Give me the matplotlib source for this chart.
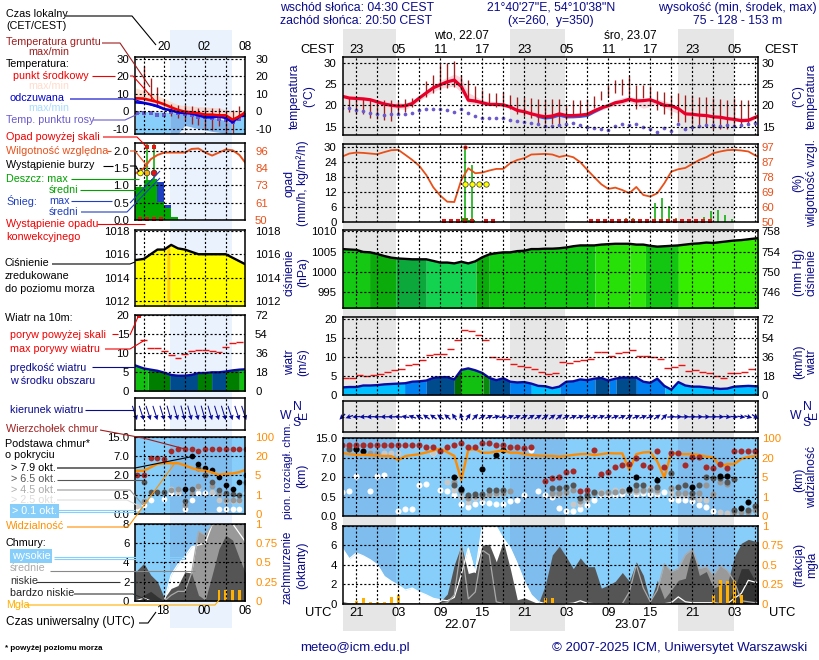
import numpy as np
import matplotlib
matplotlib.use('Agg')
import matplotlib.pyplot as plt

plt.rcParams['font.family'] = ['Liberation Sans', 'DejaVu Sans']
plt.rcParams['font.size'] = 7.9
plt.rcParams['lines.scale_dashes'] = False

# ---------- MAIN PANELS DATA (hour index from 19 UTC 21.07) ----------
temp = [22.1,21.7,21.6,21.5,21.3,20.8,20.3,20.0,19.8,19.9,20.4,21.7,22.9,24.1,24.8,25.5,25.9,24.4,21.2,21.0,
        20.6,20.2,20.2,20.1,19.6,18.8,18.5,18.0,17.6,17.3,17.5,18.0,17.6,17.6,17.7,17.9,18.7,19.4,19.9,20.6,
        20.9,21.4,21.0,21.1,21.3,20.7,20.0,19.9,19.2,18.0,17.9,17.7,17.6,17.3,17.2,16.9,16.7,16.4,16.5,17.2,17.8]
dew = [19.4,19.4,19.0,18.7,18.2,17.9,17.8,18.0,17.9,17.9,18.2,18.8,19.2,19.2,19.1,18.8,18.4,19.2,18.1,17.5,
       17.1,17.0,17.1,17.1,16.6,16.4,16.1,15.9,15.6,15.2,15.2,15.3,15.6,15.9,15.4,15.0,14.6,14.4,14.2,15.2,
       15.6,15.4,15.7,14.9,14.4,13.7,14.8,14.1,15.6,14.4,14.9,15.2,15.4,15.3,15.2,15.3,15.2,15.3,15.6,15.9]
ground_hours = list(range(1, 59))
ground_max = [22.0,21.7,21.4,21.3,21.2,21.3,21.2,21.0,21.4,21.6,22.0,25.7,27.1,29.7,29.8,30.3,27.1,26.0,24.4,23.6,
              22.9,22.9,23.1,22.5,22.0,22.0,21.6,21.4,21.4,21.4,21.4,20.0,21.2,21.2,21.4,22.1,23.3,24.8,26.0,26.2,
              26.9,24.8,24.8,24.4,23.4,23.0,22.4,22.8,22.4,22.4,22.0,22.0,21.7,21.4,21.2,21.6,21.2,21.2]
ground_min = [18.4,18.0,17.9,17.1,16.8,16.6,16.4,18.0,18.4,19.6,21.2,22.0,22.9,23.6,24.1,24.2,23.6,21.2,20.8,20.4,
              20.0,19.6,19.6,19.2,18.0,17.6,17.1,15.6,15.6,15.6,15.2,16.5,17.6,17.6,17.6,19.4,21.3,22.0,22.8,22.4,
              22.0,19.2,21.6,20.4,19.0,18.0,17.6,16.0,16.0,15.6,15.2,15.2,14.4,14.4,14.4,15.2,15.2,15.6]
env_hours = [0,3,6,9,11,12,14,16,17,18,20,23,26,29,32,35,38,40,41,43,45,47,49,52,55,58,60]
env_upper = [22.5,22,21,20.5,22,23.5,25.8,27.3,26.5,23,21.2,20.6,19.2,18,18,18.2,20.6,21.8,22,21.6,21.5,20.5,18.5,18,17.4,17,18]
env_lower = [21.5,21,19.5,19,21,22.2,24,24.5,23,20.5,20,19.8,18,16.8,17,17.5,19.5,20.3,20.8,19.3,20.2,18.7,17.5,17,16.5,16,17.5]
feels_hours = [28,29,30,31,32,33,34,35,36,37]
feels = [17.4,17.0,17.2,17.7,17.3,17.3,17.4,17.6,18.5,19.3]

rh = [90.7,92.6,93.2,93.0,92.6,92.2,93.5,94.7,94.9,91.8,88.6,84.9,79.2,71.5,66.3,62.5,62.3,76.1,83.4,80.3,
      80.7,82.0,83.0,83.0,86.6,88.6,89.7,92.0,92.2,92.4,92.0,90.5,91.4,90.3,87.2,82.4,77.8,73.4,70.5,71.3,
      69.8,67.8,71.7,66.7,65.7,67.8,74.0,81.3,82.8,83.6,86.1,88.6,90.3,92.8,93.9,94.7,94.9,94.5,93.9,91.4,89.5]
rain_hours = [17.55,18.55,40.55,41.55,44.65,45.65,46.65,47.65,51.65,52.65,53.65,54.65,55.65]
rain_max = [30.0,22.8,1.3,1.6,7.3,9.3,6.4,1.3,2.0,4.4,4.5,2.5,1.0]
rain_mean_hours = [17.0,18.0]
rain_mean = [1.3,0.6]
thunder_hours = [17.55,18.55,19.55,20.55]
thunder_level = [15.1,15.1,15.1,15.1]
over_hours = [17.55]
convective_hours = [14.55,15.55,16.55,17.55,18.55,20.55,21.55,35.55,36.55,37.55,38.55,39.55,40.55,41.55,42.55,
                    43.55,44.55,45.55,46.55,47.55,48.55,49.55,50.55,51.55,52.55]

pressure = [1005.6,1005.5,1005.4,1004.9,1004.8,1004.4,1003.9,1003.5,1003.3,1003.2,1003.1,1003.1,1003.1,1002.7,1002.3,
            1002.3,1002.1,1002.5,1002.1,1002.6,1003.6,1004.3,1004.6,1004.8,1004.8,1005.1,1005.2,1005.6,1005.6,1005.7,
            1005.7,1005.8,1006.0,1006.3,1006.5,1006.5,1006.5,1006.7,1006.8,1006.9,1006.9,1006.9,1006.7,1006.7,1006.4,
            1006.2,1006.3,1006.4,1006.5,1006.7,1006.9,1007.0,1007.2,1007.1,1007.3,1007.5,1007.7,1007.8,1008.0,1008.2,1008.4]

wind = [2.0,2.1,2.1,2.5,2.5,2.6,2.8,2.9,3.0,3.1,3.5,3.6,3.8,4.5,4.7,4.7,4.1,6.6,7.0,6.5,
        5.8,4.5,3.9,4.4,3.5,3.3,3.4,3.0,2.4,2.3,1.8,2.2,3.5,3.6,4.1,3.9,4.3,4.5,3.8,4.3,
        4.6,4.6,4.6,3.5,3.2,4.3,2.4,1.4,3.4,2.5,2.2,2.2,2.0,1.8,1.6,1.7,2.2,2.3,2.4,2.3,2.3]
gust = [4.4,4.4,5.2,5.0,5.2,5.4,6.0,6.5,6.8,7.8,8.1,9.1,10.4,10.7,10.7,12.0,14.4,17.0,16.8,15.7,
        14.6,9.9,9.6,9.6,8.1,7.7,7.5,6.8,6.0,5.4,5.7,8.6,8.3,8.9,9.1,9.6,11.2,11.2,10.2,11.0,
        11.2,11.8,10.2,10.2,9.9,9.6,7.0,7.3,7.8,6.2,6.5,6.0,5.7,4.9,4.4,5.7,5.7,6.0,6.8]
wind_to = [225,200,185,183,182,180,180,178,176,170,160,150,145,145,145,140,125,110,55,45,
           30,25,15,10,22,25,28,30,30,35,35,38,28,22,20,20,20,20,20,20,
           22,30,22,20,20,35,45,5,3,3,2,2,2,2,0,-5,-5,-8,-15,-35]

top_hours = [0,1,2,3,4,5,6,7,8,9,10,11,12,13,14,15,16,17,18,19,20,21,22,23,24,25,26,27,29,30,31,32,33,34,35,36,37,38,39,40,41,42,43,44,45,46,47,48,49,50,51,52,53,54,55,56,57,58,59]
top_km = [12,12,12,12,12,12,12,12,12,12,12,12,11.3,11.3,9.8,11.3,12,12.8,11.3,11.3,12.8,12.8,12,12,11.3,11.3,10.9,11.5,1.7,1.9,2.0,3.3,3.6,0.9,1.0,10.2,2.9,3.3,4.5,5.0,5.4,6.9,5.1,4.5,9.5,4.7,8.9,8.9,5.2,7.4,7.4,4.5,4.2,5.4,4.2,9.8,9.8,9.8,9.8]
b79_hours = [2,3,16,17,20,22,23,41,42,45,50,54,55,57,58]
b79_km = [10.4,9.9,2.1,1.1,4.0,8.1,10.2,1.1,2.0,1.8,1.2,2.3,2.3,0.2,0.35]
b65_hours = [1,2,16,17,18,19,20,21,22,23,30,31,32,33,34,35,36,41,42,43,45,47,48,49,50,51,52,53,54,55,56,56,58,59]
b65_km = [10.7,10.7,1.4,1.0,0.6,0.7,0.7,1.0,1.0,1.0,1.14,1.14,1.26,1.36,0.47,0.63,0.88,0.98,1.36,1.36,1.26,2.95,1.2,1.39,0.75,1.39,2.1,1.95,1.95,1.64,1.82,0.16,0.16,0.26]
b45_hours = [1,4,5,16,17,18,19,20,21,22,23,24,30,31,32,33,34,35,36,37,38,39,40,41,42,43,44,45,47,48,49,50,51,52,53,54,55,56,57,58,59]
b45_km = [11.5,9,9,1.6,0.9,0.45,0.55,0.55,0.7,0.75,0.75,0.9,0.75,0.75,0.88,1.0,0.39,0.46,0.75,0.75,0.88,0.88,0.95,0.9,1.0,1.0,1.0,1.0,1.14,0.75,0.75,0.5,0.75,1.39,0.7,1.64,1.5,0.1,0.1,0.1,0.16]
b25_hours = [4,6,7,8,13,15,16,17,18,19,20,21,22,23,30,31,32,33,34,35,37,38,39,40,41,42,43,44,45,47,48,49,50,51,52,53,54,55,56]
b25_km = [9,9,9,9,9,1.6,1.0,0.5,0.37,0.45,0.45,0.6,0.68,0.75,0.58,0.58,0.75,0.32,0.3,0.41,0.88,0.75,1.0,1.0,0.93,0.88,0.95,1.14,0.88,0.75,0.63,0.63,0.5,0.44,0.42,0.58,0.11,0.07,0.07]
b01_hours = [0,1,2,4,5,6,8,9,10,11,12,13,14,15,16,17,18,19,20,21,22,23,24,25,26,27,28,29,30,31,32,33,34,35,36,37,38,39,40,41,42,43,44,45,46,47,48,49,50,51,52,53]
b01_km = [0.83,0.93,2.3,0.93,2.2,2.6,0.14,0.19,0.19,1.36,1.5,9,1,0.93,0.58,0.32,0.22,0.32,0.35,0.34,0.32,0.32,0.38,0.41,0.58,10.2,0.93,0.58,0.5,0.2,0.14,0.14,0.18,0.28,0.4,0.58,0.58,0.63,0.7,0.88,0.7,0.78,0.7,0.7,0.83,0.43,0.4,0.41,0.39,0.28,0.23,0.14]
visibility = [39,34,31,31,30,27,27,26,18,26,30,34,41,49,57,42,27,4.4,52,55,40,40,45,49,40,40,34,30,28,27,
              27,24,27,31,34,35,30,34,38,37,37,10.4,34,41,43,17,4.9,41,34,34,34,31,24,21,13,15,15,19,23,26,28]

cl_high = [5.7,4.6,5.2,4.9,4.5,4.0,2.8,2.3,1.9,1.4,1.6,1.2,0.9,0.55,0.4,0.3,0.65,3.0,5.7,3.2,8.0,8.0,7.9,6.7,5.7,4.1,2.3,0.9,0.2,0,
           0,0,0,0.05,0.3,0.05,0,0,0,0,0,0,0,0,0,0,0,0.1,0.7,0.2,0.1,0.1,0.1,0.1,0,0,0.55,1.06,2.4,2.2,2.2]
cl_mid = [0,0,0,0,0,0,0,0,0,0,0,0,0,0,0,0.1,0.9,6.0,0.5,1.2,5.5,5.0,0.2,0,0,0,0,0,0,0,
          0,0,0,0,0,0,0,0,0,0,0,1.2,4.0,1.6,0.2,1.4,4.1,3.3,3.6,5.0,5.6,3.6,3.8,2.9,3.9,3.4,2.3,0.3,0.2,0.1,0.1]
cl_low = [0.2,0.1,0.1,0,0,0,0,0,0,0,0,0,0,0,0.2,1.0,4.0,6.0,3.1,3.3,6.0,6.1,4.3,6.4,3.6,0.4,0.6,0.3,0,1.9,
          5.0,5.9,4.8,3.6,4.7,3.8,3.8,1.6,1.9,2.3,3.2,2.3,4.3,2.9,0.2,2.4,0.5,1.4,2.4,2.6,5.6,2.9,3.3,1.6,1.9,2.0,4.8,6.2,6.6,6.4,6.3]
cl_vlow = [0.15,0.1,0,0,0,0,0,0,0,0,0,0,0,0,0,0,0,0,0,0,0,0,0,0,0,0,0,0,0,0,
           0,0,0,0,0,0,0,0,0,0,0,0,0,0,0,0,0,0,0,0,0,0,0,0,0,0,1.5,3.6,3.6,2.3,2.3]
fog_hours = [2,3,4,5,6,7,8,29,30,53,54,55,56,57]
fog_frac = [0.04,0.07,0.025,0.025,0.025,0.08,0.11,0.07,0.07,0.11,0.31,0.29,0.29,0.11]

# ---------- LEFT PANELS DATA (UTC hour, 14 .. 30) ----------
l_hours = list(range(14, 31))
l_temp = [7.5,7.3,6.3,5.4,4.0,2.3,0.8,-0.2,-0.6,-1.1,-1.9,-1.9,-2.3,-2.3,-4.8,-2.9,-0.2]
l_feels = [5.2,4.8,4.0,3.0,1.3,0.6,-0.6,-1.0,-1.3,-2.3,-3.4,-3.4,-2.9,-3.8,-6.3,-2.9,-2.3]
l_dew = [-1,-1,-1.1,-1.9,-2.3,-0.6,-1.1,-1.5,-2.1,-3.3,-3.4,-3.8,-4.4,-5.2,-6.3,-4.4,-1.9]
l_ground_hours = list(range(15, 30))
l_ground_max = [25.8,19.1,14,6.7,4.2,3.8,3.8,2.9,1.9,1.9,1.9,1.9,1,1,3.3]
l_ground_min = [10.5,6.7,3.8,2.9,-2.9,-3.8,-4.8,-7.1,-7.6,-9.6,-10.5,-8.6,-12.4,-12.4,-4.8]
l_pink_top = [13.4,12,10.5,9,7.5,5.5,3.8,3.3,2.9,2.7,2.5,2.2,1.9,1,0,0.5,1]
l_blue_top = [0,0,-0.1,-0.3,-0.4,-0.7,-1,-1.5,-2,-2.5,-2.9,-3.5,-4.2,-5.5,-6.7,-4,-1]
l_blue_bot = [-13,-13,-13,-13,-13,-13,-13,-8,-9,-10,-10.7,-11.5,-12,-13,-13,-13,-13]
l_rh = [81,84.4,90.4,93.3,94.9,94.9,94.9,94.9,97.3,97.6,94.9,92.9,94.9,96.9,96.4,93.3,87.3]
l_rain_mean = [0.95,1.16,1.2,0.53,0.34,0.08]
l_snow_mean = [0,0,0,0.58,0.09,0]
l_rain_hours = [13.75,15,16,17,18,19]
l_rain_widths = [1.25,1,1,1,1,1]
l_rain_max_hours = [14.5,15.45,16.5]
l_rain_max = [1.0,2.2,2.2]
l_thunder_hours = [14.5,15.45,16.5]
l_thunder_level = [1.36,1.36,1.36]
l_thunder_colors = ['#FFFF00','#FFB000','#E81010']
l_over_hours = [15.45,16.5]
l_convective = [14.5,15.45,16.5,17.45]
l_pressure = [1015.5,1015.6,1016,1016.4,1016.4,1016.8,1016.5,1016.4,1016.2,1016,1016,1016,1016,1016,1015.7,1015.4,1015.1]
l_wind = [6.8,6.0,5.7,5.4,4.9,4.3,4.1,4.1,4.3,4.8,4.8,5.0,5.0,5.2,5.5,5.7,5.8]
l_gust_hours = list(range(15, 30))
l_gust = [13.5,11.5,11.3,10.5,9.6,8.7,9.8,10.5,10.8,10.9,10.5,10.4,11.6,12.8,13.0]
l_wind_to = [-72,-72,-72,-72,-73,-74,-74,-75,-75,-75,-74,-74,-73,-73,-72,-72,-72]
l_top = [2.0,2.0,6.6,6.6,6.3,9.1,10,10,10,9.1,10,10,10,10,10,10,10]
lb79_hours = [21,22,23,24,25,26,27,28,29,30]
lb79 = [0.95,7,5,4,3.5,1.85,1.3,0.95,1.5,2]
lb65_hours = [15,16,17,18,21,22,23,24,25,26,27,28,29,30]
lb65 = [1.5,0.7,0.7,0.7,0.35,0.95,3.9,2.2,1.5,0.9,0.65,0.6,0.5,1.5]
lb45_hours = [15,19,20,21,22,23,25,26,27,28,29,30]
lb45 = [0.35,0.9,0.95,0.25,0.65,1.2,1.15,0.6,0.37,0.37,0.37,1.4]
lb25_hours = [14,19,20,23,25,26,27,28,29,30]
lb25 = [0.22,0.95,0.75,1.05,0.75,0.37,0.33,0.33,0.33,1.2]
lb01_hours = [14,15,16,18,19,20,21,22,23,24,25,26,27,28,29,30]
lb01 = [0.15,0.25,0.37,0.4,0.65,0.65,0.13,0.37,0.65,0.65,0.65,0.13,0.13,0.13,0.13,0.65]
l_vis = [8.7,8.7,11.3,14,14.5,14.5,14.5,12.9,10.8,9.2,8.7,7.4,5.5,6.3,6.6,7.6,9.7]
l_high = [0,0.3,0,0,0,2.7,3.8,4.6,5.6,5.8,6,7.9,8,8,8,7,6]
l_mid = [0,0,0,0,0,0.6,1,1,2.9,7.2,6.8,7.9,8,8,8,8,8]
l_low = [3,3.9,2.7,2,0.3,1.3,1.6,3,2.9,0.6,0.1,2.7,5.4,6.8,6.3,4.4,2.7]
l_vlow = [0.1,0.6,1,0.45,0,0,0,0,0,0,0,0,0,0,0,0,0]
l_fog_hours = [26,27,28,29]
l_fog = [0.14,0.14,0.14,0.14]

# ---------- TICK LABELS ----------
cest_labels = ['23','05','11','17','23','05','11','17','23','05']
utc_labels = ['21','03','09','15','21','03','09','15','21','03']
kmh_labels = ['0','18','36','54','72']
mmhg_labels = ['746','750','754','758']
km_labels = ['0.0','0.5','2.0','7.0','15.0']
vis_labels = ['0','1','5','20','100']
frac_labels = ['0','0.25','0.5','0.75','1']

# ---------- COLOURS ----------
NAVY = '#0A0A8C'
SKY = '#87CEFA'
SKYN = '#7FBDEE'
ORANGE = '#FF8C00'
RHC = '#E8501A'
BROWN = '#A01E1E'
GREEN = '#00A800'
TICK = 8.2

fig = plt.figure(figsize=(8.2, 6.6), dpi=100)
W, H = 820.0, 660.0


def px_axes(x0, x1, y0, y1, **kw):
    return fig.add_axes([x0 / W, 1 - y1 / H, (x1 - x0) / W, (y1 - y0) / H], **kw)


bg = px_axes(0, 820, 0, 660, zorder=-1)
bg.set_xlim(0, 820); bg.set_ylim(660, 0); bg.axis('off')
for a, b in [(343, 396), (510, 565), (678, 733.7)]:
    bg.fill_between([a, b], 29, 631, color='#E6E6E6', lw=0)
bg.fill_between([170, 231.7], 30, 628, color='#EAF2FD', lw=0)

MAIN_X = (342.7, 757.7)
LEFT_X = (135.3, 245.3)
MXLIM = (0.06, 59.34)
LXLIM = (13.75, 29.86)
MNIGHT = [(0.06, 7.67), (23.96, 31.8), (47.96, 55.9)]
LNIGHT = [(18.83, 27.87)]
MGRID = list(range(2, 60, 3))
LGRID = [15, 18, 21, 24, 27]


def panel(xr, yr, xlim, ylim, yticks, ylabels, gridx, rlabels=None, rticks=None, rcolor='black', lcolor='black', lpad=4.3, rpad=3):
    ax = px_axes(xr[0], xr[1], yr[0], yr[1], zorder=5)
    ax.patch.set_alpha(0)
    ax.set_xlim(*xlim); ax.set_ylim(*ylim)
    ax.set_xticks(gridx); ax.set_xticklabels([])
    ax.set_yticks(yticks); ax.set_yticklabels(ylabels, color=lcolor, fontsize=TICK)
    ax.tick_params(length=0, pad=lpad)
    ax.grid(True, color='black', lw=0.85, ls=(0, (1.5, 1.5)))
    ax.set_axisbelow(False)
    for s in ax.spines.values():
        s.set_linewidth(1.1); s.set_zorder(6)
    rax = ax.twinx()
    rax.patch.set_alpha(0)
    rax.set_ylim(*ylim)
    rax.set_yticks(rticks if rticks is not None else yticks)
    rax.set_yticklabels(rlabels if rlabels is not None else ylabels, color=rcolor, fontsize=TICK)
    rax.tick_params(length=0, pad=rpad)
    for s in rax.spines.values():
        s.set_visible(False)
    return ax


def fill_seg(ax, x, y, a, b, base, color, z=1):
    xs = np.arange(a, b + 0.051, 0.1)
    y1 = np.interp(xs, x, y)
    y2 = np.interp(xs, x, base) if np.ndim(base) else base
    ax.fill_between(xs, y1, y2, color=color, lw=0, zorder=z)


def segs(ax, x, y, items, base, z=1):
    for a, b, c in items:
        fill_seg(ax, x, y, a, b, base, c, z)


def dots(ax, hours, km, color, s=19, z=2.1):
    ax.scatter(hours, km, s=s, color=color, lw=0, zorder=z)


KM_POS = [0, 1, 2, 3, 4]
KM_VAL = [0, 0.5, 2, 7, 15]
VIS_VAL = [0, 1, 5, 20, 100]


def km_y(v):
    return np.interp(v, KM_VAL, KM_POS)


def vis_y(v):
    return np.interp(v, VIS_VAL, KM_POS)


mx = np.arange(len(temp))
# ---------- main temperature ----------
ax = panel(MAIN_X, (57, 135), MXLIM, (13.05, 31.3), [15, 20, 25, 30], ['15', '20', '25', '30'], MGRID, rpad=3)
ax.fill_between(env_hours, env_lower, env_upper, color='#FAD7DC', lw=0, zorder=1)
ax.plot(feels_hours, feels, color='#2060F0', lw=2.2, zorder=1.5)
ax.vlines(ground_hours, ground_min, ground_max, color=BROWN, lw=0.95, zorder=1.7)
ax.scatter(np.arange(len(dew)), dew, s=7, color='#6A5ACD', lw=0, zorder=1.8)
ax.plot(mx, temp, color='#E8002A', lw=2.3, zorder=2)

# ---------- main precipitation / humidity ----------
ax = panel(MAIN_X, (144, 221.7), MXLIM, (0, 31), [0, 6, 12, 18, 24, 30], ['0', '6', '12', '18', '24', '30'], MGRID,
           rlabels=['50', '60', '69', '78', '87', '97'], rticks=[0, 6, 12, 18, 24, 30], rcolor=RHC)
ax.bar(rain_mean_hours, rain_mean, width=1.0, color=GREEN, align='edge', lw=0, zorder=1.2)
ax.vlines(rain_hours, 0, rain_max, color=GREEN, lw=1.1, zorder=1.3)
ax.plot(mx, (np.array(rh) - 50) * 30 / 47, color=RHC, lw=1.3, zorder=1.6)
ax.scatter(thunder_hours, thunder_level, s=15, color='#FFFF00', edgecolor='#333333', lw=0.5, zorder=2)
ax.scatter(over_hours, [30] * len(over_hours), s=9, color='#F01010', lw=0, zorder=2)
ax.scatter(convective_hours, [0.25] * len(convective_hours), s=6, marker='s', color='#E81010', lw=0, zorder=2.2, clip_on=False)

# ---------- main pressure ----------
ax = panel(MAIN_X, (230.3, 308.3), MXLIM, (991.1, 1010.2), [995, 1000, 1005, 1010], ['995', '1000', '1005', '1010'], MGRID,
           rlabels=mmhg_labels, rticks=[995, 1000, 1005, 1010])
segs(ax, mx, pressure, [(0, 3.9, '#14C814'), (3.9, 7.7, '#0AAB0A'), (7.7, 12, '#0CA83C'), (12, 19.1, '#12D24F'),
                        (19.1, 21, '#0AAB0A'), (21, 36.1, '#10C810'), (36.1, 41.1, '#26E008'), (41.1, 43.3, '#30E80A'),
                        (43.3, 48, '#12C612'), (48, 60, '#36EE00')], 990)
ax.plot(mx, pressure, color='black', lw=1.7, zorder=2)

# ---------- main wind ----------
ax = panel(MAIN_X, (317.3, 395), MXLIM, (0, 20.45), [0, 5, 10, 15, 20], ['0', '5', '10', '15', '20'], MGRID, rlabels=kmh_labels)
C1, C2, C3, G1, G2 = '#00C0FF', '#0080F0', '#004B8C', '#006C00', '#12C011'
segs(ax, np.arange(len(wind)), wind, [(0, 8.9, C1), (8.9, 12, C2), (12, 16, C3), (16, 17, G1), (17, 20.1, G2), (20.1, 21, '#0A8A0A'),
                                      (21, 23.9, C3), (23.9, 27, C2), (27, 31.1, C1), (31.1, 36.1, C2), (36.1, 38.1, C3),
                                      (38.1, 39.1, C2), (39.1, 42, C3), (42, 46.1, C2), (46.1, 60, C1)], 0)
ax.plot(np.arange(len(wind)), wind, color='#0A0AA0', lw=1.7, zorder=2)
gx = np.arange(len(gust))
ax.hlines(gust, gx, gx + 1, color='#F01010', lw=1.0, zorder=2.1)

# ---------- main wind direction ----------
ax = panel(MAIN_X, (401.3, 431.7), MXLIM, (0, 1), [], [], MGRID)
ang = np.radians(wind_to)
ax.quiver(np.arange(len(wind_to)), [0.49] * len(wind_to), 8 * np.cos(ang), 8 * np.sin(ang), angles='uv', scale_units='dots', scale=1,
          units='dots', width=1.3, headwidth=4, headlength=4, headaxislength=3.5, color='#0A0A9C', pivot='mid', zorder=2, clip_on=False)

# ---------- main cloud base ----------
ax = panel(MAIN_X, (437.7, 516), MXLIM, (0, 4.02), KM_POS, km_labels, MGRID, rlabels=vis_labels, rcolor=ORANGE)
ax.patch.set_alpha(1); ax.patch.set_facecolor(SKY)
for a, b in MNIGHT:
    ax.axvspan(a, b, color=SKYN, lw=0, zorder=0.5)
dots(ax, b01_hours, km_y(b01_km), 'white')
dots(ax, b25_hours, km_y(b25_km), '#C8C8C8')
dots(ax, b45_hours, km_y(b45_km), '#969696')
dots(ax, b65_hours, km_y(b65_km), '#555555')
dots(ax, b79_hours, km_y(b79_km), 'black')
ax.plot(np.arange(len(visibility)), vis_y(visibility), color=ORANGE, lw=1.7, zorder=2.2)
dots(ax, top_hours, km_y(top_km), '#A52A2A', z=2.3)

# ---------- main cloud cover ----------
ax = panel(MAIN_X, (525.7, 603.7), MXLIM, (0, 8), [0, 2, 4, 6, 8], ['0', '2', '4', '6', '8'], MGRID,
           rlabels=frac_labels, rcolor=ORANGE)
ax.patch.set_alpha(1); ax.patch.set_facecolor(SKY)
for a, b in MNIGHT:
    ax.axvspan(a, b, color=SKYN, lw=0, zorder=0.5)
cx = np.arange(len(cl_high))
ax.fill_between(cx, 0, cl_high, color='white', lw=0, zorder=1)
ax.fill_between(cx, 0, cl_mid, color='#999999', lw=0, zorder=1.1)
ax.fill_between(cx, 0, cl_low, color='#555555', lw=0, zorder=1.2)
ax.fill_between(cx, 0, cl_vlow, color='#333333', lw=0, zorder=1.3)
ax.plot(cx, cl_high, color='white', lw=0.9, zorder=1.4)
ax.plot(cx, cl_mid, color='#AAAAAA', lw=0.9, zorder=1.4)
ax.bar(fog_hours, np.array(fog_frac) * 8, width=0.38, color='#FFB000', lw=0, zorder=2)

lx = np.array(l_hours, dtype=float)
lx[0] = 13.75
# ---------- left temperature ----------
ax = panel(LEFT_X, (57.3, 134), LXLIM, (-13, 31), [-10, 0, 10, 20, 30], ['-10', '0', '10', '20', '30'], LGRID, lpad=4.3, rpad=7)
for a, b, c1, c2 in [(13.75, 18.83, '#FDE3D3', SKY), (18.83, 27.87, '#F5DAD2', '#7FB5EA'), (27.87, 30, '#FDE3D3', SKY)]:
    fill_seg(ax, lx, l_pink_top, a, b, l_feels, c1, 1)
    fill_seg(ax, lx, l_blue_top, a, b, l_blue_bot, c2, 1.1)
ax.vlines(l_ground_hours, l_ground_min, l_ground_max, color=BROWN, lw=0.95, zorder=1.5)
ax.scatter(l_hours, l_dew, s=7, marker='s', color='#6A5ACD', lw=0, zorder=1.6)
ax.plot(lx, l_feels, color='#0000E0', lw=1.9, zorder=1.8)
ax.plot(lx, l_temp, color='#F00000', lw=1.9, zorder=2)

# ---------- left precipitation ----------
ax = panel(LEFT_X, (143.3, 220), LXLIM, (0, 2.22), [0, 0.5, 1, 1.5, 2], ['0.0', '0.5', '1.0', '1.5', '2.0'], LGRID,
           rlabels=['50', '61', '73', '84', '96'], rticks=[0, 0.5, 1, 1.5, 2], rcolor=RHC, rpad=7)
ax.bar(l_rain_hours, l_rain_mean, width=l_rain_widths, color=GREEN, align='edge', lw=0, zorder=1.2)
ax.bar(l_rain_hours, l_snow_mean, bottom=l_rain_mean, width=l_rain_widths, color='#2040C0', align='edge', lw=0, zorder=1.2)
ax.vlines(l_rain_max_hours, 0, l_rain_max, color=GREEN, lw=1.1, zorder=1.3)
ax.plot(lx, (np.array(l_rh) - 50) / 23, color=RHC, lw=1.4, zorder=1.6)
ax.scatter(l_thunder_hours, l_thunder_level, s=17, c=l_thunder_colors, edgecolor='#333333', lw=0.5, zorder=2)
ax.scatter(l_over_hours, [2.1] * len(l_over_hours), s=9, marker='s', color='#F01010', lw=0, zorder=2)
ax.scatter(l_convective, [0.02] * len(l_convective), s=6, marker='s', color='#E81010', lw=0, zorder=2.2, clip_on=False)

# ---------- left pressure ----------
ax = panel(LEFT_X, (229.7, 306), LXLIM, (1011.57, 1018.1), [1012, 1014, 1016, 1018], ['1012', '1014', '1016', '1018'], LGRID, rpad=7)
segs(ax, lx, l_pressure, [(13.75, 18.35, '#FFFF00'), (18.35, 18.85, '#FFD000'), (18.85, 30, '#FFFF00')], 1011)
ax.plot(lx, l_pressure, color='black', lw=1.7, zorder=2)

# ---------- left wind ----------
ax = panel(LEFT_X, (315.3, 391.3), LXLIM, (0, 20), [0, 5, 10, 15, 20], ['0', '5', '10', '15', '20'], LGRID, rlabels=kmh_labels, rpad=7)
LG1, LG2 = '#12C012', '#007E00'
segs(ax, lx, l_wind, [(13.75, 15.66, LG1), (15.66, 18.78, LG2), (18.78, 22.83, C3), (22.83, 24.93, LG2), (24.93, 26.98, C3),
                      (26.98, 29, LG2), (29, 30, LG1)], 0)
ax.plot(lx, l_wind, color='#0A0AA0', lw=1.7, zorder=2)
gh = np.array(l_gust_hours)
ax.hlines(l_gust, gh - 0.5, gh + 0.5, color='#F01010', lw=1.0, zorder=2.1)
ax.scatter([14.3], [19.7], s=8, marker='s', color='#F01010', lw=0, zorder=2.2)

# ---------- left wind direction ----------
ax = panel(LEFT_X, (398.3, 429.5), LXLIM, (0, 1), [], [], LGRID)
ang = np.radians(l_wind_to)
ax.quiver(l_hours, [0.3] * len(l_wind_to), 15 * np.cos(ang), 15 * np.sin(ang), angles='uv', scale_units='dots', scale=1,
          units='dots', width=1.0, headwidth=5, headlength=5, headaxislength=4.5, color='#0A0A9C', pivot='tip', zorder=2, clip_on=False)

# ---------- left cloud base ----------
ax = panel(LEFT_X, (436.7, 514.3), LXLIM, (0, 4.0), KM_POS, km_labels, LGRID, rlabels=vis_labels, rcolor=ORANGE, rpad=7)
ax.patch.set_alpha(1); ax.patch.set_facecolor(SKY)
for a, b in LNIGHT:
    ax.axvspan(a, b, color=SKYN, lw=0, zorder=0.5)
dots(ax, lb01_hours, km_y(lb01), 'white', s=17)
dots(ax, lb25_hours, km_y(lb25), '#C8C8C8', s=17)
dots(ax, lb45_hours, km_y(lb45), '#969696', s=17)
dots(ax, lb65_hours, km_y(lb65), '#555555', s=17)
dots(ax, lb79_hours, km_y(lb79), 'black', s=17)
ax.plot(lx, vis_y(l_vis), color=ORANGE, lw=1.7, zorder=2.2)
dots(ax, l_hours, km_y(l_top), '#A52A2A', s=17, z=2.3)

# ---------- left cloud cover ----------
ax = panel(LEFT_X, (523.7, 601), LXLIM, (0, 8), [0, 2, 4, 6, 8], ['0', '2', '4', '6', '8'], LGRID,
           rlabels=frac_labels, rcolor=ORANGE, rpad=7)
ax.patch.set_alpha(1); ax.patch.set_facecolor(SKY)
for a, b in LNIGHT:
    ax.axvspan(a, b, color=SKYN, lw=0, zorder=0.5)
ax.fill_between(lx, 0, l_high, color='white', lw=0, zorder=1)
ax.fill_between(lx, 0, l_mid, color='#999999', lw=0, zorder=1.1)
ax.fill_between(lx, 0, l_low, color='#555555', lw=0, zorder=1.2)
ax.fill_between(lx, 0, l_vlow, color='#333333', lw=0, zorder=1.3)
ax.plot(lx, l_high, color='white', lw=0.9, zorder=1.4)
ax.plot(lx, l_mid, color='#AAAAAA', lw=0.9, zorder=1.4)
ax.bar(l_fog_hours, np.array(l_fog) * 8, width=0.38, color='#FFB000', lw=0, zorder=2)

# ---------- overlay texts ----------
ov = px_axes(0, 820, 0, 660, zorder=20)
ov.set_xlim(0, 820); ov.set_ylim(660, 0); ov.axis('off')
ov.patch.set_alpha(0)


def T(x, y, s, c='black', ha='left', size=7.75, **kw):
    ov.text(x, y, s, color=c, ha=ha, va='center', fontsize=size, **kw)


def L(pts, c, lw=0.8):
    xs, ys = zip(*pts)
    ov.plot(xs, ys, color=c, lw=lw, solid_capstyle='butt')


PINK = '#FFDCCB'; PALE = '#A8DCFF'; PURP = '#6A5ACD'; RED = '#F00000'; BLUE = '#0000CC'
SNOW = '#2040C0'; GRN = '#00A000'; ORG = '#FF9000'; FOG = '#FFB000'
rows = [(6, 14, 'Czas lokalny', 'black'), (6, 26, '(CET/CEST)', 'black'), (6, 42, 'Temperatura gruntu', BROWN), (28, 52, 'max/min', BROWN),
        (6, 64, 'Temperatura:', 'black'), (13, 76, 'punkt środkowy', RED), (28, 86, 'max/min', PINK), (10, 98, 'odczuwana', BLUE),
        (28, 108, 'max/min', PALE), (6, 120, 'Temp. punktu rosy', PURP), (6, 137, 'Opad powyżej skali', RED),
        (6, 151, 'Wilgotność względna', RHC), (6, 165, 'Wystąpienie burzy', 'black'), (6, 179, 'Deszcz: max', GRN), (49, 190, 'średni', GRN),
        (6, 201, 'Śnieg:', SNOW), (49, 201, 'max', SNOW), (49, 212, 'średni', SNOW), (6, 224, 'Wystąpienie opadu', RED),
        (6, 237, 'konwekcyjnego', RED), (5, 263, 'Ciśnienie', 'black'), (5, 276, 'zredukowane', 'black'), (5, 289, 'do poziomu morza', 'black'),
        (5, 318, 'Wiatr na 10m:', 'black'), (10, 335, 'poryw powyżej skali', RED), (10, 349, 'max porywy wiatru', RED),
        (10, 368, 'prędkość wiatru', NAVY), (10, 381, 'w środku obszaru', NAVY), (10, 410, 'kierunek wiatru', NAVY),
        (6, 429, 'Wierzchołek chmur', BROWN), (5, 444, 'Podstawa chmur*', 'black'), (5, 455, 'o pokryciu', 'black'),
        (11, 468, '> 7.9 okt.', 'black'), (11, 479, '> 6.5 okt.', '#555555'), (11, 490, '> 4.5 okt.', '#AAAAAA'), (11, 500, '> 2.5 okt.', '#DDDDDD'),
        (6, 526, 'Widzialność', ORG), (6, 543, 'Chmury:', 'black'), (10, 568, 'średnie', '#AAAAAA'), (10, 581, 'niskie', '#333333'),
        (10, 593, 'bardzo niskie', '#222222'), (6, 605, 'Mgła', FOG)]
for x, y, s, c in rows:
    T(x, y, s, c)
T(12, 511, '> 0.1 okt.', 'white', bbox=dict(fc=SKY, ec='none', pad=1.2))
T(12, 556, 'wysokie', 'white', bbox=dict(fc=SKY, ec='none', pad=1.2))
T(6, 622, 'Czas uniwersalny (UTC)', 'black', size=8.6)
T(5, 648, '* powyżej poziomu morza', 'black', size=5.8, fontweight='bold')

L([(66, 16), (132, 16), (156, 45)], 'black')
L([(102, 43), (120, 43), (150, 87)], BROWN)
L([(92, 76), (115, 76)], RED); L([(130, 76), (133, 76), (157, 103)], RED)
L([(70, 99), (133, 99), (166, 110)], BLUE)
L([(93, 120), (125, 120), (140, 113)], PURP)
L([(103, 137), (137, 137), (146, 146)], RED)
L([(107, 151), (111, 151)], RHC); L([(130, 151), (135, 151), (148, 167)], RHC)
L([(103, 166), (113, 166)], 'black'); L([(130, 166), (136, 166), (139, 172)], 'black')
L([(71, 179), (139, 179)], GRN); L([(80, 190), (140, 190)], GRN)
L([(71, 201), (112, 201)], SNOW); L([(130, 203), (160, 171)], SNOW)
L([(81, 212), (127, 212), (160, 178)], SNOW)
L([(97, 224), (145, 224)], RED)
L([(52, 264), (130, 264), (135, 262)], 'black')
L([(112, 334), (118, 334)], RED); L([(130, 335), (138, 317)], RED)
L([(105, 349), (130, 349), (145, 340)], RED)
L([(92, 367), (135, 367)], NAVY); L([(85, 410), (135, 410)], NAVY)
L([(100, 430), (143, 438), (185, 449)], BROWN)
L([(57, 468), (135, 468), (190, 457)], 'black')
L([(57, 480), (143, 480)], '#555555')
L([(57, 490), (130, 490), (143, 505)], '#999999')
L([(57, 500), (127, 500), (137, 505)], '#DDDDDD')
L([(55, 510), (135, 510)], SKY); L([(55, 512), (135, 512)], SKY)
L([(67, 527), (128, 527), (175, 463)], ORG)
L([(54, 557), (185, 557)], SKY); L([(54, 559), (185, 559)], SKY)
L([(50, 571), (195, 571)], '#888888')
L([(36, 582), (120, 582)], '#333333'); L([(130, 582), (137, 582)], '#333333')
L([(74, 594), (133, 594), (147, 600)], '#333333')
L([(26, 605), (215, 605), (219, 600)], FOG)
L([(139, 623), (148, 623), (156, 612)], 'black')

# left time labels
for x, s in zip([164, 204, 245], ['20', '02', '08']):
    T(x, 47, s, ha='center', size=8.6)
for x, s in zip([163, 204, 245], ['18', '00', '06']):
    T(x, 611, s, ha='center', size=8.6)
# header
T(280, 8, 'wschód słońca: 04:30 CEST', NAVY, size=8.8)
T(280, 21, 'zachód słońca: 20:50 CEST', NAVY, size=8.8)
T(551, 8, '21°40\'27"E, 54°10\'38"N', NAVY, ha='center', size=8.8)
T(551, 21, '(x=260,  y=350)', NAVY, ha='center', size=8.8)
T(817, 8, 'wysokość (min, środek, max)', NAVY, ha='right', size=8.8)
T(738, 21, '75 - 128 - 153 m', NAVY, ha='center', size=8.8)
T(461, 36, 'wto, 22.07', ha='center', size=8.6)
T(630, 36, 'śro, 23.07', ha='center', size=8.6)
T(461, 625, '22.07', ha='center', size=9.3)
T(630, 625, '23.07', ha='center', size=9.3)
T(318, 50, 'CEST', ha='center', size=9.3)
T(782, 50, 'CEST', ha='center', size=9.3)
T(318, 613, 'UTC', ha='center', size=9.3)
T(782, 613, 'UTC', ha='center', size=9.3)
for k, (a, b) in enumerate(zip(cest_labels, utc_labels)):
    x = 356.3 + 42 * k
    T(x, 50, a, ha='center', size=9.3)
    T(x, 613, b, ha='center', size=9.3)

for x, y, s, fs in [(295, 96, 'temperatura', 8.7), (309, 96, '(°C)', 8.7), (798, 96, '(°C)', 8.7), (812, 96, 'temperatura', 8.7),
                    (290, 183, 'opad', 8.7), (303, 183, '(mm/h, kg/m²/h)', 8.7), (798, 183, '(%)', 8.7), (812, 183, 'wilgotność wzgl.', 8.7),
                    (290, 272, 'ciśnienie', 8.7), (303, 272, '(hPa)', 8.7), (799, 272, '(mm Hg)', 8.7), (812, 272, 'ciśnienie', 8.7),
                    (290, 362, 'wiatr', 8.7), (303, 362, '(m/s)', 8.7), (799, 362, '(km/h)', 8.7), (812, 362, 'wiatr', 8.7),
                    (288, 471, 'pion. rozciągł. chm.', 8.0), (302, 476, '(km)', 8.7), (799, 480, '(km)', 8.7), (812, 477, 'widzialność', 8.7),
                    (288, 567, 'zachmurzenie', 8.5), (302, 565, '(oktanty)', 8.7), (799, 565, '(frakcja)', 8.7), (812, 565, 'mgła', 8.7)]:
    ov.text(x, y, s, color=NAVY, ha='center', va='center', rotation=90, fontsize=fs)
for x0 in (0, 510):
    T(286 + x0, 416, 'W', NAVY, ha='center', size=8.8)
    T(297 + x0, 407, 'N', NAVY, ha='center', size=8.8)
    T(297 + x0, 423, 'S', NAVY, ha='center', size=8.8)
    ov.text(304 + x0, 415, 'E', color=NAVY, ha='center', va='center', fontsize=8.8, rotation=90)
T(355, 648, 'meteo@icm.edu.pl', NAVY, ha='center', size=9.45)
T(680, 648, '© 2007-2025 ICM, Uniwersytet Warszawski', NAVY, ha='center', size=9.5)

fig.savefig('out.png', dpi=100, facecolor='white')
